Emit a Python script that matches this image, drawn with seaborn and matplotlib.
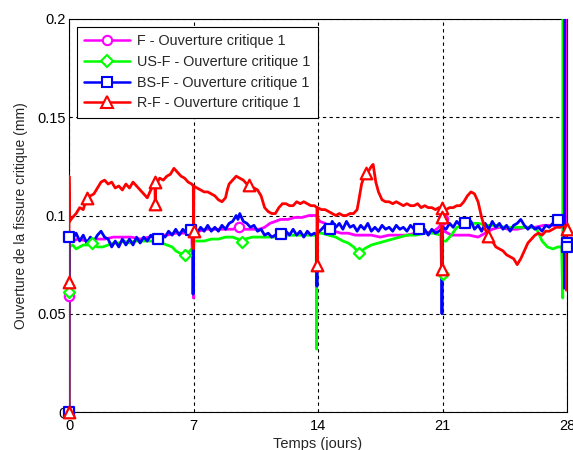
import numpy as np
import pandas as pd
import matplotlib
matplotlib.use('Agg')
import matplotlib.pyplot as plt
from matplotlib.lines import Line2D
import seaborn as sns

sns.set_style('white')
plt.rcParams['font.family'] = ['Liberation Sans', 'DejaVu Sans']

# F - Ouverture critique 1 (magenta)
f_t = [0, 0, 0.02, 0.2, 0.5, 1.0, 1.5, 2.0, 2.5, 3.0, 3.5, 4.0, 4.5, 5.0, 5.5, 6.0, 6.5, 6.9,
       7.0, 7.01, 7.3, 7.7, 8.1, 8.5, 8.9, 9.2, 9.55, 9.9, 10.3, 10.7, 11.0, 11.3, 11.6, 11.9,
       12.3, 12.7, 13.1, 13.5, 13.9, 14.1, 14.4, 14.7, 14.9, 15.3, 15.7, 16.1, 16.5, 17.0, 17.5,
       18.0, 18.5, 19.0, 19.5, 20.0, 20.5, 20.8, 21.0, 21.1, 21.5, 22.0, 22.5, 23.0, 23.4, 23.8,
       24.2, 24.7, 25.2, 25.7, 26.2, 26.7, 27.2, 27.7, 27.96, 27.97]
f_v = [0, 0.059, 0.088, 0.087, 0.088, 0.087, 0.088, 0.088, 0.089, 0.089, 0.089, 0.088, 0.089,
       0.090, 0.090, 0.091, 0.091, 0.092, 0.058, 0.092, 0.092, 0.093, 0.093, 0.093, 0.093, 0.093,
       0.094, 0.093, 0.093, 0.093, 0.094, 0.096, 0.097, 0.098, 0.098, 0.099, 0.099, 0.100, 0.100,
       0.097, 0.096, 0.094, 0.092, 0.091, 0.091, 0.090, 0.090, 0.090, 0.089, 0.090, 0.090, 0.090,
       0.091, 0.091, 0.092, 0.094, 0.097, 0.092, 0.090, 0.090, 0.090, 0.089, 0.091, 0.093, 0.094,
       0.093, 0.093, 0.094, 0.094, 0.095, 0.095, 0.094, 0.093, 0.25]
f_mt = [0, 0, 9.55, 21.0]
f_mv = [0, 0.059, 0.094, 0.098]

# US-F - Ouverture critique 1 (green)
us_t = [0, 0, 0.03, 0.2, 0.4, 0.6, 0.8, 1.0, 1.3, 1.6, 1.9, 2.2, 2.5, 2.8, 3.1, 3.4, 3.7, 4.0,
        4.3, 4.6, 4.9, 5.2, 5.5, 5.8, 6.0, 6.2, 6.4, 6.5, 6.7, 6.9, 6.95, 6.96, 6.98, 7.2, 7.6,
        8.0, 8.4, 8.8, 9.2, 9.5, 9.7, 9.9, 10.3, 10.7, 11.0, 11.5, 12.0, 12.5, 13.0, 13.5, 13.9,
        13.92, 13.94, 14.2, 14.6, 15.0, 15.4, 15.7, 16.0, 16.3, 16.6, 17.0, 17.4, 17.8, 18.2,
        18.6, 19.0, 19.5, 20.0, 20.5, 20.9, 20.95, 20.97, 21.2, 21.5, 21.8, 22.2, 22.6, 23.0,
        23.5, 24.0, 24.5, 25.0, 25.5, 26.0, 26.3, 26.6, 26.9, 27.2, 27.5, 27.7, 27.76, 27.77]
us_v = [0, 0.061, 0.084, 0.085, 0.083, 0.084, 0.085, 0.085, 0.086, 0.084, 0.084, 0.085, 0.086,
        0.086, 0.087, 0.086, 0.087, 0.087, 0.087, 0.087, 0.087, 0.086, 0.085, 0.084, 0.082, 0.081,
        0.080, 0.079, 0.081, 0.083, 0.084, 0.060, 0.087, 0.087, 0.087, 0.088, 0.088, 0.089, 0.089,
        0.088, 0.086, 0.088, 0.089, 0.089, 0.089, 0.089, 0.090, 0.090, 0.090, 0.090, 0.090, 0.032,
        0.091, 0.091, 0.090, 0.089, 0.087, 0.086, 0.084, 0.081, 0.083, 0.085, 0.086, 0.087, 0.088,
        0.089, 0.090, 0.090, 0.091, 0.091, 0.090, 0.069, 0.087, 0.087, 0.090, 0.094, 0.095, 0.096,
        0.096, 0.095, 0.095, 0.094, 0.094, 0.094, 0.094, 0.093, 0.087, 0.084, 0.083, 0.084, 0.084,
        0.058, 0.25]
us_mt = [0, 1.3, 6.5, 9.7, 16.3, 21.0]
us_mv = [0.061, 0.086, 0.080, 0.0867, 0.081, 0.070]

# BS-F - Ouverture critique 1 (blue)
bs_t = [0, 0.02, 0.2, 0.4, 0.6, 0.8, 1.0, 1.2, 1.4, 1.6, 1.8, 2.0, 2.2, 2.4, 2.6, 2.8, 3.0, 3.2,
        3.4, 3.6, 3.8, 4.0, 4.2, 4.4, 4.6, 4.8, 5.0, 5.2, 5.4, 5.6, 5.8, 6.0, 6.2, 6.4, 6.6, 6.8,
        6.97, 6.98, 7.0, 7.2, 7.4, 7.6, 7.8, 8.0, 8.2, 8.4, 8.6, 8.8, 9.0, 9.2, 9.4, 9.5, 9.6, 9.8,
        10.0, 10.2, 10.4, 10.6, 10.8, 11.0, 11.2, 11.4, 11.6, 11.8, 12.0, 12.2, 12.4, 12.6, 12.8,
        13.0, 13.2, 13.4, 13.6, 13.8, 13.93, 13.94, 13.96, 14.2, 14.4, 14.6, 14.8, 15.0, 15.2,
        15.4, 15.6, 15.8, 16.0, 16.2, 16.4, 16.6, 16.8, 17.0, 17.2, 17.4, 17.6, 17.8, 18.0, 18.2,
        18.4, 18.6, 18.8, 19.0, 19.2, 19.4, 19.6, 19.8, 20.0, 20.2, 20.4, 20.6, 20.8, 20.95, 20.97,
        20.99, 21.2, 21.4, 21.6, 21.8, 22.0, 22.2, 22.4, 22.6, 22.8, 23.0, 23.2, 23.4, 23.6, 23.8,
        24.0, 24.2, 24.4, 24.6, 24.8, 25.0, 25.2, 25.4, 25.6, 25.8, 26.0, 26.2, 26.4, 26.6, 26.8,
        27.0, 27.2, 27.4, 27.6, 27.8, 27.84, 27.86, 27.87]
bs_v = [0, 0.089, 0.088, 0.091, 0.087, 0.090, 0.086, 0.089, 0.087, 0.090, 0.092, 0.089, 0.088,
        0.084, 0.087, 0.084, 0.088, 0.085, 0.088, 0.085, 0.089, 0.086, 0.089, 0.087, 0.090, 0.088,
        0.088, 0.090, 0.089, 0.092, 0.090, 0.093, 0.090, 0.093, 0.091, 0.094, 0.092, 0.060, 0.092,
        0.091, 0.094, 0.092, 0.095, 0.092, 0.094, 0.092, 0.095, 0.093, 0.096, 0.097, 0.100, 0.098,
        0.101, 0.097, 0.096, 0.094, 0.095, 0.092, 0.093, 0.090, 0.091, 0.089, 0.090, 0.092, 0.089,
        0.092, 0.090, 0.093, 0.090, 0.092, 0.089, 0.092, 0.090, 0.091, 0.090, 0.064, 0.091, 0.093,
        0.095, 0.092, 0.097, 0.094, 0.096, 0.093, 0.097, 0.094, 0.095, 0.092, 0.095, 0.093, 0.096,
        0.092, 0.094, 0.092, 0.095, 0.093, 0.094, 0.092, 0.095, 0.093, 0.094, 0.092, 0.095, 0.093,
        0.094, 0.092, 0.093, 0.090, 0.093, 0.091, 0.092, 0.093, 0.050, 0.094, 0.093, 0.096, 0.094,
        0.097, 0.095, 0.096, 0.094, 0.097, 0.093, 0.095, 0.092, 0.096, 0.093, 0.097, 0.094, 0.096,
        0.093, 0.095, 0.092, 0.095, 0.096, 0.098, 0.095, 0.093, 0.095, 0.093, 0.094, 0.092, 0.095,
        0.094, 0.096, 0.097, 0.096, 0.095, 0.094, 0.063, 0.25]
bs_mt = [0, 0, 5.03, 6.85, 11.93, 14.65, 19.7, 22.25, 27.47, 28.0, 28.0]
bs_mv = [0, 0.089, 0.088, 0.0926, 0.0906, 0.093, 0.093, 0.096, 0.0977, 0.086, 0.084]

# R-F - Ouverture critique 1 (red)
r_t = [0, 0, 0.03, 0.2, 0.4, 0.6, 0.8, 1.0, 1.2, 1.4, 1.6, 1.8, 2.0, 2.2, 2.4, 2.6, 2.8, 3.0,
       3.2, 3.4, 3.6, 3.8, 4.0, 4.2, 4.4, 4.6, 4.83, 4.85, 4.87, 4.9, 5.1, 5.3, 5.5, 5.7, 5.9,
       6.1, 6.3, 6.5, 6.7, 6.9, 6.99, 7.0, 7.02, 7.2, 7.4, 7.6, 7.8, 8.0, 8.2, 8.4, 8.6, 8.8,
       8.9, 9.0, 9.2, 9.4, 9.6, 9.8, 10.0, 10.2, 10.4, 10.6, 10.8, 11.0, 11.2, 11.4, 11.6, 11.8,
       12.0, 12.2, 12.4, 12.6, 12.8, 13.0, 13.2, 13.4, 13.6, 13.8, 13.94, 13.95, 13.97, 14.2,
       14.4, 14.6, 14.8, 15.0, 15.2, 15.4, 15.6, 15.8, 16.0, 16.2, 16.3, 16.45, 16.6, 16.8, 17.0,
       17.1, 17.25, 17.4, 17.6, 17.8, 18.0, 18.2, 18.4, 18.6, 18.8, 19.0, 19.2, 19.4, 19.6, 19.8,
       20.0, 20.2, 20.4, 20.6, 20.8, 20.95, 20.97, 20.99, 21.2, 21.4, 21.6, 21.8, 22.0, 22.2,
       22.4, 22.6, 22.8, 23.0, 23.2, 23.4, 23.6, 23.8, 24.0, 24.2, 24.4, 24.6, 24.8, 25.0, 25.2,
       25.4, 25.6, 25.8, 26.0, 26.2, 26.4, 26.6, 26.8, 27.0, 27.2, 27.4, 27.6, 27.8, 27.95,
       27.97, 28.0]
r_v = [0, 0.12, 0.097, 0.099, 0.101, 0.104, 0.103, 0.109, 0.110, 0.111, 0.114, 0.117, 0.118,
       0.116, 0.117, 0.114, 0.115, 0.113, 0.116, 0.114, 0.117, 0.115, 0.113, 0.111, 0.109, 0.113,
       0.117, 0.104, 0.117, 0.116, 0.119, 0.118, 0.120, 0.121, 0.124, 0.122, 0.120, 0.119, 0.117,
       0.116, 0.115, 0.083, 0.115, 0.114, 0.113, 0.112, 0.112, 0.111, 0.110, 0.108, 0.107, 0.109,
       0.113, 0.116, 0.118, 0.120, 0.119, 0.118, 0.116, 0.115, 0.114, 0.113, 0.110, 0.104, 0.102,
       0.101, 0.101, 0.104, 0.106, 0.106, 0.105, 0.105, 0.107, 0.106, 0.107, 0.106, 0.105, 0.105,
       0.104, 0.073, 0.104, 0.103, 0.103, 0.102, 0.101, 0.100, 0.101, 0.100, 0.100, 0.101, 0.101,
       0.103, 0.108, 0.116, 0.120, 0.122, 0.125, 0.126, 0.117, 0.112, 0.108, 0.107, 0.107, 0.106,
       0.107, 0.106, 0.105, 0.106, 0.105, 0.105, 0.106, 0.104, 0.105, 0.104, 0.104, 0.103, 0.104,
       0.103, 0.071, 0.103, 0.103, 0.104, 0.104, 0.105, 0.105, 0.107, 0.110, 0.112, 0.111, 0.107,
       0.099, 0.093, 0.089, 0.087, 0.084, 0.083, 0.082, 0.080, 0.079, 0.078, 0.075, 0.078, 0.082,
       0.086, 0.088, 0.090, 0.091, 0.090, 0.092, 0.092, 0.093, 0.094, 0.094, 0.095, 0.094, 0.062,
       0.094]
r_mt = [0, 0, 1.0, 4.85, 4.85, 7.0, 10.1, 13.95, 16.68, 20.97, 20.97, 20.97, 23.55, 28.0]
r_mv = [0, 0.066, 0.109, 0.117, 0.106, 0.092, 0.1155, 0.075, 0.1216, 0.104, 0.099, 0.073,
        0.0895, 0.093]

labels = ['F - Ouverture critique 1', 'US-F - Ouverture critique 1',
          'BS-F - Ouverture critique 1', 'R-F - Ouverture critique 1']
colors = ['#ff00ff', '#00ff00', '#0000ff', '#ff0000']
markers = ['o', 'D', 's', '^']
msizes = [45, 32, 50, 70]

series = [(f_t, f_v, f_mt, f_mv), (us_t, us_v, us_mt, us_mv),
          (bs_t, bs_v, bs_mt, bs_mv), (r_t, r_v, r_mt, r_mv)]

fig = plt.figure(figsize=(5.73, 4.5), dpi=100)
ax = fig.add_axes([69 / 573, 1 - 412 / 450, 498 / 573, 393 / 450])

for i, (t, v, mt, mv) in enumerate(series):
    df = pd.DataFrame({'t': t, 'v': v})
    sns.lineplot(data=df, x='t', y='v', sort=False, estimator=None, color=colors[i],
                 lw=2.0, ax=ax, zorder=3 + i)
    mdf = pd.DataFrame({'t': mt, 'v': mv})
    sns.scatterplot(data=mdf, x='t', y='v', marker=markers[i], s=msizes[i], color='white',
                    edgecolor=colors[i], linewidth=1.6, ax=ax, zorder=8 + i, clip_on=False)

ax.set_xlim(0, 28)
ax.set_ylim(0, 0.2)
ax.set_xticks([0, 7, 14, 21, 28])
ax.set_yticks([0, 0.05, 0.1, 0.15, 0.2])
ax.set_yticklabels(['0', '0.05', '0.1', '0.15', '0.2'])
ax.grid(True, color='black', linestyle=(0, (3, 3)), lw=0.8)
ax.tick_params(direction='in', length=4, width=0.8, labelsize=10.5, colors='black')
ax.tick_params(axis='x', pad=5)
ax.tick_params(axis='y', pad=2)
for s in ax.spines.values():
    s.set_color('black')
    s.set_linewidth(0.8)
ax.set_xlabel('Temps (jours)', fontsize=10.5, labelpad=3)
ax.set_ylabel('Ouverture de la fissure critique (mm)', fontsize=10, labelpad=7)

handles = [Line2D([], [], color=colors[i], lw=1.8, marker=markers[i],
                  markersize=np.sqrt(msizes[i]), markerfacecolor='white',
                  markeredgewidth=1.5) for i in range(4)]
leg = ax.legend(handles, labels, loc='upper left', bbox_to_anchor=(0.016, 0.98),
                borderaxespad=0, fontsize=10.4, handlelength=3.2, handletextpad=0.45,
                labelspacing=0.47, borderpad=0.5, fancybox=False, framealpha=1,
                edgecolor='black')
leg.get_frame().set_linewidth(0.8)
leg.set_zorder(20)

fig.savefig('out.png', dpi=100)
